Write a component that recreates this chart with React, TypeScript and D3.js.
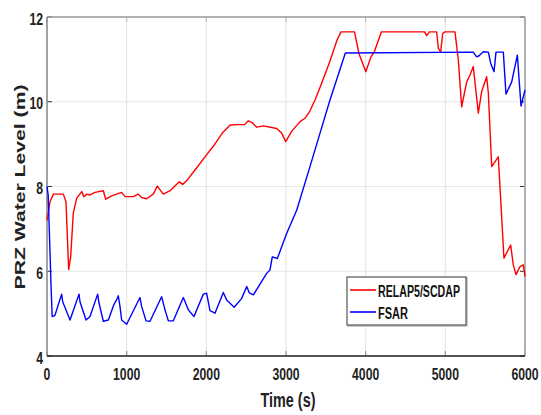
import React from "react";
import * as d3 from "d3";

const xTicks = [0, 1000, 2000, 3000, 4000, 5000, 6000];
const yTicks = [4, 6, 8, 10, 12];
const seriesNames = ["RELAP5/SCDAP", "FSAR"];
const xLabel = "Time (s)";
const yLabel = "PRZ Water Level (m)";

const relapSeries: [number, number][] = [
  [0, 7.2], [38, 7.64], [80, 7.82], [205, 7.82], [238, 7.64], [272, 6.04], [297, 6.34],
  [330, 7.37], [372, 7.72], [435, 7.88], [464, 7.76], [498, 7.82], [540, 7.8], [602, 7.86],
  [707, 7.9], [737, 7.7], [812, 7.78], [937, 7.86], [979, 7.76], [1083, 7.76], [1146, 7.82],
  [1188, 7.74], [1251, 7.71], [1334, 7.82], [1385, 8.01], [1460, 7.82], [1544, 7.9],
  [1661, 8.11], [1703, 8.05], [1754, 8.14], [1858, 8.39], [2000, 8.74], [2100, 8.98],
  [2200, 9.26], [2300, 9.45], [2400, 9.46], [2480, 9.46], [2527, 9.55], [2580, 9.5],
  [2632, 9.4], [2715, 9.43], [2883, 9.37], [2946, 9.26], [2996, 9.06], [3071, 9.3],
  [3176, 9.53], [3238, 9.61], [3300, 9.78], [3364, 10.04], [3450, 10.45], [3550, 10.95],
  [3640, 11.45], [3690, 11.65], [3860, 11.65], [3915, 11.14], [4002, 10.71], [4067, 11.06],
  [4111, 11.19], [4198, 11.65], [4740, 11.65], [4766, 11.56], [4800, 11.65], [4891, 11.65],
  [4912, 11.26], [4942, 11.18], [4967, 11.61], [4995, 11.65], [5121, 11.65], [5163, 10.99],
  [5205, 9.88], [5268, 10.47], [5310, 10.63], [5351, 10.83], [5414, 9.73], [5456, 10.24],
  [5519, 10.59], [5540, 10.2], [5582, 8.47], [5665, 8.7], [5736, 6.31], [5820, 6.62],
  [5853, 6.15], [5887, 5.92], [5937, 6.11], [5979, 6.15], [6000, 5.87],
];

const fsarSeries: [number, number][] = [
  [0, 8.0], [15, 7.8], [50, 5.7], [65, 4.93], [100, 4.96], [184, 5.46], [197, 5.28],
  [289, 4.85], [402, 5.46], [414, 5.28], [490, 4.85], [540, 4.93], [636, 5.46], [653, 5.25],
  [707, 4.82], [770, 4.85], [841, 5.22], [880, 5.35], [895, 5.42], [916, 5.17], [937, 4.85],
  [1000, 4.75], [1167, 5.38], [1188, 5.17], [1243, 4.83], [1293, 4.82], [1439, 5.4],
  [1481, 5.09], [1523, 4.83], [1586, 4.83], [1711, 5.38], [1774, 5.09], [1845, 4.93],
  [1962, 5.46], [2004, 5.48], [2046, 5.07], [2109, 5.01], [2213, 5.5], [2255, 5.32],
  [2350, 5.15], [2444, 5.36], [2507, 5.64], [2539, 5.49], [2590, 5.44], [2757, 5.95],
  [2799, 6.03], [2828, 6.34], [2891, 6.3], [3008, 6.89], [3134, 7.44], [3301, 8.47],
  [3427, 9.26], [3552, 10.04], [3745, 11.15], [5351, 11.17], [5393, 11.06], [5420, 11.08],
  [5477, 11.18], [5540, 11.17], [5569, 10.91], [5611, 10.71], [5636, 11.17], [5728, 11.17],
  [5761, 10.18], [5833, 10.47], [5904, 11.1], [5950, 9.9], [6000, 10.28],
];

const colors = ["#ff0000", "#0000ff"];

export default function App() {
  const W = 541, H = 415;
  const left = 47, top = 17, right = 525, bottom = 356;
  const x = d3.scaleLinear().domain([0, 6000]).range([left, right]);
  const y = d3.scaleLinear().domain([4, 12]).range([bottom, top]);
  const line = d3.line<[number, number]>().x(d => x(d[0])).y(d => y(d[1]));
  const font = "'Liberation Sans', Arial, sans-serif";
  const sx = 0.72;

  const legendX = 347, legendY = 277, legendW = 119, legendH = 48;

  return (
    <svg width={W} height={H} style={{ position: "absolute", left: 0, top: 0, background: "#fff" }}>
      <rect x={0} y={0} width={W} height={H} fill="#fff" />
      {xTicks.map(t => (
        <line key={"gx" + t} x1={x(t)} x2={x(t)} y1={top} y2={bottom} stroke="#e6e6e6" strokeWidth={1.2} />
      ))}
      {yTicks.map(t => (
        <line key={"gy" + t} x1={left} x2={right} y1={y(t)} y2={y(t)} stroke="#e6e6e6" strokeWidth={1.2} />
      ))}
      {/* ticks */}
      {yTicks.map(t => (
        <g key={"ty" + t}>
          <line x1={left} x2={left + 5} y1={y(t)} y2={y(t)} stroke="#333" strokeWidth={1} />
          <line x1={right - 5} x2={right} y1={y(t)} y2={y(t)} stroke="#333" strokeWidth={1} />
        </g>
      ))}
      {xTicks.map(t => (
        <g key={"tx" + t}>
          <line x1={x(t)} x2={x(t)} y1={bottom} y2={bottom - 5} stroke="#999" strokeWidth={1.2} />
          <line x1={x(t)} x2={x(t)} y1={top} y2={top + 5} stroke="#bbb" strokeWidth={1} />
        </g>
      ))}
      {/* box */}
      <line x1={left} x2={right} y1={top} y2={top} stroke="#9a9a9a" strokeWidth={1.5} />
      <line x1={right} x2={right} y1={top} y2={bottom} stroke="#aaa" strokeWidth={1.8} />
      <line x1={left} x2={left} y1={top} y2={bottom} stroke="#888" strokeWidth={1.5} />
      <line x1={left} x2={right} y1={bottom} y2={bottom} stroke="#222" strokeWidth={1.4} />

      <path d={line(relapSeries) || ""} fill="none" stroke={colors[0]} strokeWidth={1.4} strokeLinejoin="round" />
      <path d={line(fsarSeries) || ""} fill="none" stroke={colors[1]} strokeWidth={1.4} strokeLinejoin="round" />

      {/* tick labels */}
      {xTicks.map(t => (
        <text key={"lx" + t} transform={`translate(${x(t)},380) scale(${sx},1)`} textAnchor="middle"
          fontFamily={font} fontWeight="bold" fontSize={17} fill="#222">{t}</text>
      ))}
      {yTicks.map(t => (
        <text key={"ly" + t} transform={`translate(43,${y(t) + 7.5}) scale(${sx},1)`} textAnchor="end"
          fontFamily={font} fontWeight="bold" fontSize={17} fill="#222">{t}</text>
      ))}
      <text transform={`translate(288,407) scale(${sx},1)`} textAnchor="middle"
        fontFamily={font} fontWeight="bold" fontSize={20} fill="#222">{xLabel}</text>
      <text transform={`translate(25,187) rotate(-90) scale(1,${sx})`} textAnchor="middle"
        fontFamily={font} fontWeight="bold" fontSize={20} fill="#222"
        textLength={205} lengthAdjust="spacingAndGlyphs">{yLabel}</text>

      {/* legend */}
      <rect x={legendX + 1} y={legendY + 1} width={legendW} height={legendH} fill="none" stroke="#bbb" strokeWidth={1.5} />
      <rect x={legendX} y={legendY} width={legendW} height={legendH} fill="#fff" stroke="#555" strokeWidth={1.2} />
      {seriesNames.map((n, i) => (
        <g key={n}>
          <line x1={legendX + 3} x2={legendX + 29} y1={legendY + 13 + i * 22} y2={legendY + 13 + i * 22}
            stroke={colors[i]} strokeWidth={1.6} />
          <text x={legendX + 31} y={legendY + 19.5 + i * 22} fontFamily={font} fontWeight="bold" fontSize={16}
            fill="#111" textLength={i === 0 ? 82 : 30} lengthAdjust="spacingAndGlyphs">{n}</text>
        </g>
      ))}
    </svg>
  );
}
